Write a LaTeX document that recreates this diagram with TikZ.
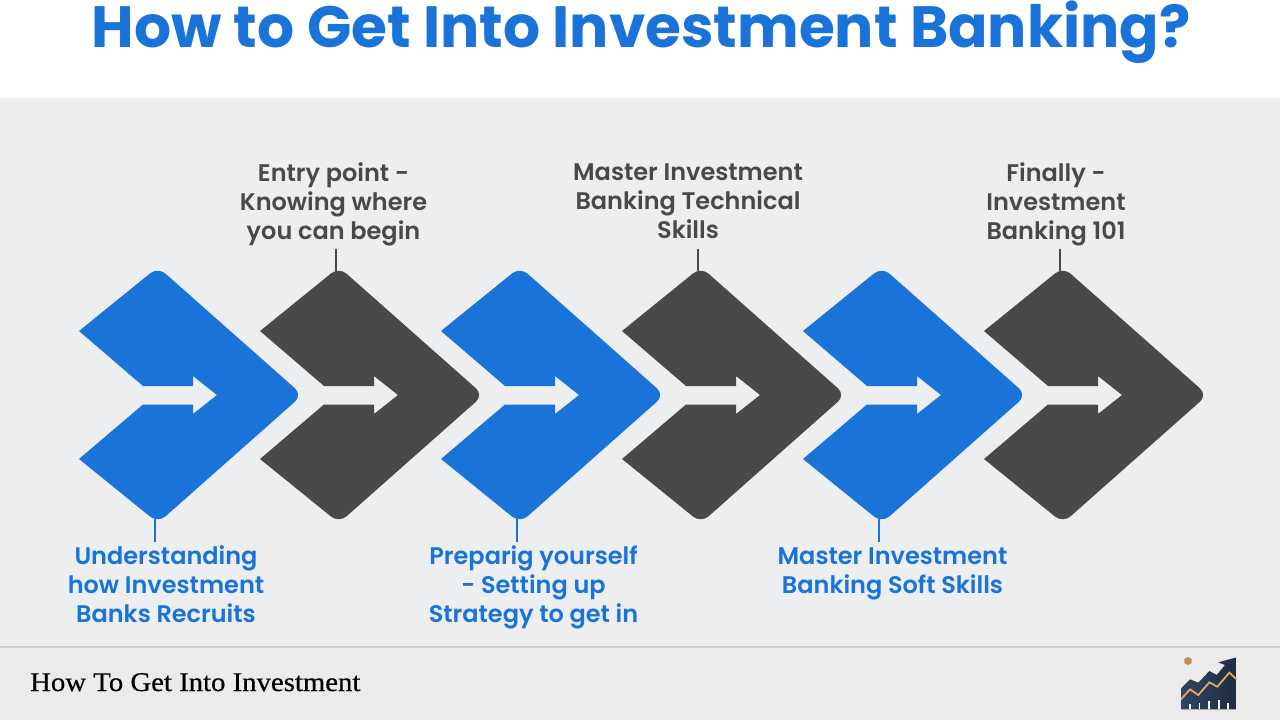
\documentclass[tikz,border=0pt]{standalone}
\usepackage{fontspec}
\setmainfont{Poppins}
\newfontfamily\footfont[FakeStretch=1.065,FakeBold=0.5]{Liberation Serif}
\newfontfamily\headfont{Poppins SemiBold}
\newfontfamily\titlefont{Poppins}[BoldFont={Poppins Bold}]
\usetikzlibrary{positioning}
\definecolor{bankblue}{HTML}{1A73D9}
\definecolor{bankgray}{HTML}{48494B}
\definecolor{panelbg}{HTML}{ECEEF0}
\definecolor{footbg}{HTML}{EBEBEB}
\definecolor{logonavy}{HTML}{1F2C40}
\definecolor{logosteel}{HTML}{2F4564}
\definecolor{logogold}{HTML}{E0A860}
\tikzset{
  steplabel/.style={align=center, inner sep=0pt, font=\headfont\fontsize{24}{29}\selectfont},
  stem/.style={line width=2pt},
}
\begin{document}
\begin{tikzpicture}[x=1pt,y=-1pt]
      \useasboundingbox (0,0) rectangle (1280,720);
      \fill[white] (0,0) rectangle (1280,98);
      \fill[panelbg] (0,98) rectangle (1280,647);
      \fill[footbg] (0,647) rectangle (1280,720);
      \draw[color=black!20, line width=1.5pt] (0,647) -- (1280,647);

      \node[anchor=base, inner sep=0pt, text=bankblue, font=\titlefont\bfseries\fontsize{58.2}{62}\selectfont] (title) at (641,47) {How to Get Into Investment Banking?};

      \foreach \i/\col in {0/bankblue,1/bankgray,2/bankblue,3/bankgray,4/bankblue,5/bankgray} {
        \begin{scope}[xshift=181.0*\i pt]
          \fill[\col] (79,331) [rounded corners=10pt] -- (158,267) -- (302.5,395) -- (158,523) [sharp corners] -- (79,459)
            -- (143,404.5) -- (193,404.5) -- (193,414) -- (217,395) -- (193,376) -- (193,386) -- (143,386) -- cycle;
          \coordinate (tip\i) at (154.5,395);
        \end{scope}
      }

      \node[steplabel, text=bankblue] (understand) at (166,584) {Understanding\\how Investment\\Banks Recruits};
      \node[steplabel, text=bankgray] (entry) at (333.5,204) {Entry point -\\Knowing where\\you can begin};
      \node[steplabel, text=bankblue] (prepare) at (533.5,587) {Preparig yourself\\- Setting up\\Strategy to get in};
      \node[steplabel, text=bankgray] (technical) at (688,201) {Master Investment\\Banking Technical\\Skills};
      \node[steplabel, text=bankblue] (soft) at (892.5,573.5) {Master Investment\\Banking Soft Skills};
      \node[steplabel, text=bankgray] (finally) at (1056,204) {Finally -\\Investment\\Banking 101};

      \draw[stem, bankblue] (tip0 |- 0,519) -- (tip0 |- 0,542);
      \draw[stem, bankgray] (tip1 |- 0,271) -- (tip1 |- 0,249);
      \draw[stem, bankblue] (tip2 |- 0,519) -- (tip2 |- 0,542);
      \draw[stem, bankgray] (tip3 |- 0,271) -- (tip3 |- 0,249);
      \draw[stem, bankblue] (tip4 |- 0,519) -- (tip4 |- 0,542);
      \draw[stem, bankgray] (tip5 |- 0,271) -- (tip5 |- 0,249);

      \node[anchor=base west, inner sep=0pt, text=black, font=\footfont\fontsize{27}{30}\selectfont] (foot) at (30,691) {How To Get Into Investment};

      \begin{scope}[shift={(1160,640)}, x=0.3333pt, y=-0.3333pt]
        \shade[left color=logosteel, right color=logonavy] (63,145) -- (90,118) -- (115,128) -- (148,93) -- (170,105) -- (195,75) -- (175,67) -- (230,52) -- (230,208) -- (63,208) -- cycle;
        \draw[logogold, line width=1.8pt] (63,178) -- (90,148) -- (115,165) -- (148,127) -- (172,140) -- (208,98) -- (230,118);
        \foreach \tx/\ty in {90/193,118/188,147/182,176/181,204/188} {
          \fill[white] (\tx-2.5,\ty) rectangle (\tx+2.5,208);
        }
        \fill[logogold!85!black] (84,51) -- (95,57) -- (95,69) -- (84,75) -- (73,69) -- (73,57) -- cycle;
      \end{scope}
    \end{tikzpicture}
\end{document}
